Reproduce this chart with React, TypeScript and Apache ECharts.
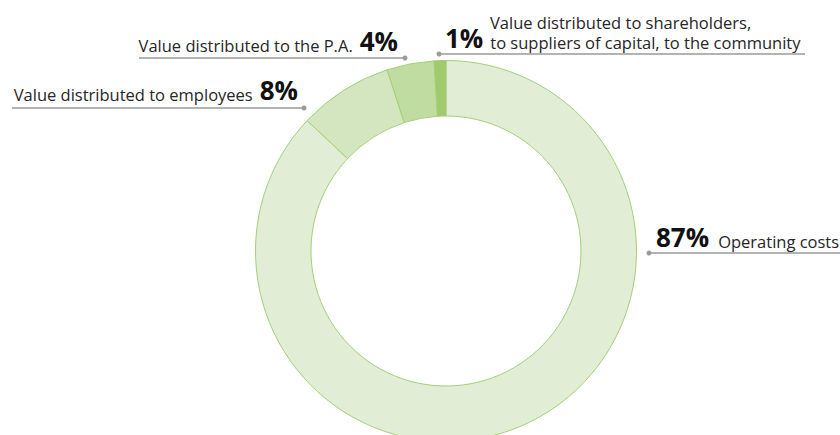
import React, { useEffect, useRef } from "react";
import * as echarts from "echarts";

// ---- data ----
const categories = [
  "Operating costs",
  "Value distributed to employees",
  "Value distributed to the P.A.",
  "Value distributed to shareholders,\nto suppliers of capital, to the community",
];
const shares = [87, 8, 4, 1];
const shareLabels = ["87%", "8%", "4%", "1%"];

// ---- styles / layout ----
const sliceColors = ["#e2edd5", "#d3e6bf", "#c1dca0", "#a0ca6c"];
const FONT = "'Open Sans', 'Noto Sans', sans-serif";

type Anchor = {
  textX: number;
  textY: number;
  align: "left" | "right";
  pctFirst: boolean;
  lineY: number;
  dotX: number;
  endX: number;
};
const anchors: Anchor[] = [
  { textX: 656, textY: 250, align: "left", pctFirst: true, lineY: 253, dotX: 649, endX: 840 },
  { textX: 298, textY: 103, align: "right", pctFirst: false, lineY: 108, dotX: 304, endX: 12 },
  { textX: 398, textY: 54, align: "right", pctFirst: false, lineY: 58, dotX: 405, endX: 139 },
  { textX: 445, textY: 51, align: "left", pctFirst: true, lineY: 54, dotX: 439, endX: 805 },
];

export default function App() {
  const ref = useRef<HTMLDivElement>(null);
  useEffect(() => {
    if (!ref.current) return;
    const chart = echarts.init(ref.current, undefined, { renderer: "svg" });
    chart.setOption({
      animation: false,
      backgroundColor: "#ffffff",
      graphic: anchors.map((a) => ({
        type: "circle",
        shape: { cx: a.dotX, cy: a.lineY, r: 2.5 },
        style: { fill: "#9a9a9a" },
        z: 10,
      })),
      series: [
        {
          type: "pie",
          center: [446, 251],
          radius: [135, 190.5],
          startAngle: 90,
          clockwise: true,
          avoidLabelOverlap: false,
          itemStyle: { borderColor: "#a3d079", borderWidth: 1 },
          emphasis: { disabled: true },
          label: {
            show: true,
            position: "outside",
            fontFamily: FONT,
            formatter: (p: any) => {
              const i = p.dataIndex;
              const a = anchors[i];
              const pct = `{pct|${shareLabels[i]}}`;
              const lines = categories[i].split("\n");
              if (lines.length > 1) {
                return `{indent|}{name|${lines[0]}}\n${pct}{gap|}{name|${lines[1]}}`;
              }
              return a.pctFirst
                ? `${pct}{gapR|}{name|${lines[0]}}`
                : `{name|${lines[0]}}{gap|}${pct}`;
            },
            rich: {
              name: {
                fontFamily: FONT,
                fontSize: 16.5,
                color: "#262626",
                lineHeight: 13,
                verticalAlign: "bottom",
              },
              pct: {
                fontFamily: FONT,
                fontSize: 26,
                fontWeight: "bold",
                color: "#111111",
                lineHeight: 20,
                verticalAlign: "bottom",
              },
              gap: { width: 7 },
              gapR: { width: 9 },
              indent: { width: 45 },
            },
          },
          labelLine: {
            show: true,
            length: 0,
            length2: 0,
            smooth: false,
            lineStyle: { color: "#9a9a9a", width: 1.5 },
          },
          labelLayout: (params: any) => {
            const a = anchors[params.dataIndex];
            return {
              x: a.textX,
              y: a.textY,
              align: a.align,
              verticalAlign: "bottom",
              labelLinePoints: [
                [a.dotX, a.lineY],
                [(a.dotX + a.endX) / 2, a.lineY],
                [a.endX, a.lineY],
              ],
            };
          },
          data: categories.map((name, i) => ({
            name,
            value: shares[i],
            itemStyle: { color: sliceColors[i] },
          })),
        },
      ],
    });
    return () => chart.dispose();
  }, []);
  return (
    <div
      ref={ref}
      style={{ position: "fixed", left: 0, top: 0, width: 840, height: 435 }}
    />
  );
}
